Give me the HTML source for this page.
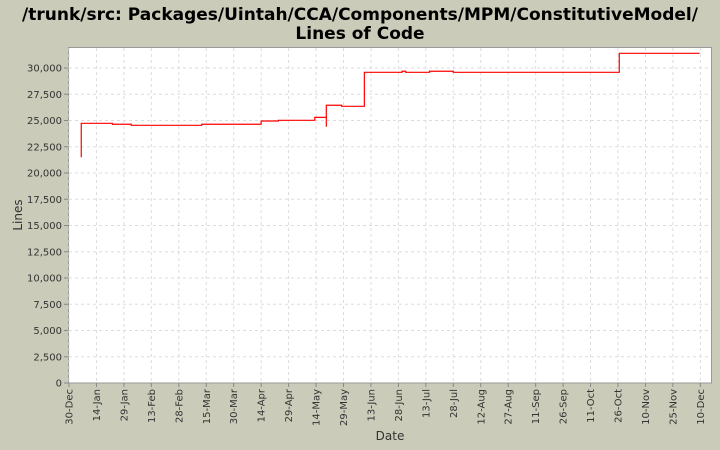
<!DOCTYPE html>
<html><head><meta charset="utf-8"><style>
body{margin:0;background:#cbcbb9;}
svg{display:block;font-family:"DejaVu Sans","Liberation Sans",sans-serif;}
</style></head><body>
<svg id="chart" width="720" height="450" xmlns="http://www.w3.org/2000/svg">
<rect x="0" y="0" width="720" height="450" fill="#cbcbb9"/>
<text x="360" y="20" font-size="17" font-weight="bold" text-anchor="middle" fill="#000">/trunk/src: Packages/Uintah/CCA/Components/MPM/ConstitutiveModel/</text>
<text x="360" y="39" font-size="17" font-weight="bold" text-anchor="middle" fill="#000">Lines of Code</text>
<rect x="68.5" y="47.5" width="643" height="335.5" fill="#fff" stroke="#999"/>
<g id="grid"></g><g id="axes"></g><g id="series"></g>
<text transform="translate(22,215) rotate(-90)" font-size="12" text-anchor="middle" fill="#333">Lines</text>
<text x="390" y="440" font-size="12" text-anchor="middle" fill="#333">Date</text>
</svg>
<script>
const yTicks=[0,2500,5000,7500,10000,12500,15000,17500,20000,22500,25000,27500,30000];
const xTickLabels=["30-Dec","14-Jan","29-Jan","13-Feb","28-Feb","15-Mar","30-Mar","14-Apr","29-Apr","14-May","29-May","13-Jun","28-Jun","13-Jul","28-Jul","12-Aug","27-Aug","11-Sep","26-Sep","11-Oct","26-Oct","10-Nov","25-Nov","10-Dec"];
const days=[6.7,6.7,23.7,34,72.5,105,114.4,134.3,140.6,140.6,149,161.4,182,184,197,210,300.7,344.6];
const values=[21500,24730,24640,24540,24640,24950,25020,25300,24410,26450,26350,29590,29690,29590,29690,29590,31400,31400];
const NS="http://www.w3.org/2000/svg";
const X0=69,PXD=27.45/15,Y0=383,PXV=26.25/2500;
const xs=d=>X0+d*PXD, ys=v=>Y0-v*PXV;
function mk(t,a,p){const e=document.createElementNS(NS,t);for(const k in a)e.setAttribute(k,a[k]);p.appendChild(e);return e;}
const grid=document.getElementById('grid'),axes=document.getElementById('axes'),ser=document.getElementById('series');
yTicks.forEach(v=>{const y=ys(v);
 if(v>0){const g=mk('line',{x1:69,x2:711,y1:y,y2:y,stroke:'#ddd','stroke-dasharray':'3,3'},grid);
 }
 const t=mk('line',{x1:64,x2:68,y1:y,y2:y,stroke:'#888'},axes);
 
 const l=mk('text',{x:62,y:y+3.5,'font-size':10,'text-anchor':'end',fill:'#333'},axes);
 l.textContent=v.toLocaleString('en-US');
 });
xTickLabels.forEach((s,i)=>{const x=xs(i*15);
 const g=mk('line',{x1:x,x2:x,y1:48,y2:382,stroke:'#ddd','stroke-dasharray':'3,3'},grid);
 
 const t=mk('line',{x1:x,x2:x,y1:383,y2:387,stroke:'#888'},axes);
 
 const l=mk('text',{transform:`translate(${x+3.5},389) rotate(-90)`,'font-size':10,'text-anchor':'end',fill:'#333'},axes);
 l.textContent=s;
 });
let d='M'+xs(days[0])+','+ys(values[0]);
for(let i=1;i<days.length;i++){d+=' H'+xs(days[i])+' V'+ys(values[i]);}
const p=mk('path',{d:d,fill:'none',stroke:'#f00','stroke-width':1.2},ser);

</script>
</body></html>
